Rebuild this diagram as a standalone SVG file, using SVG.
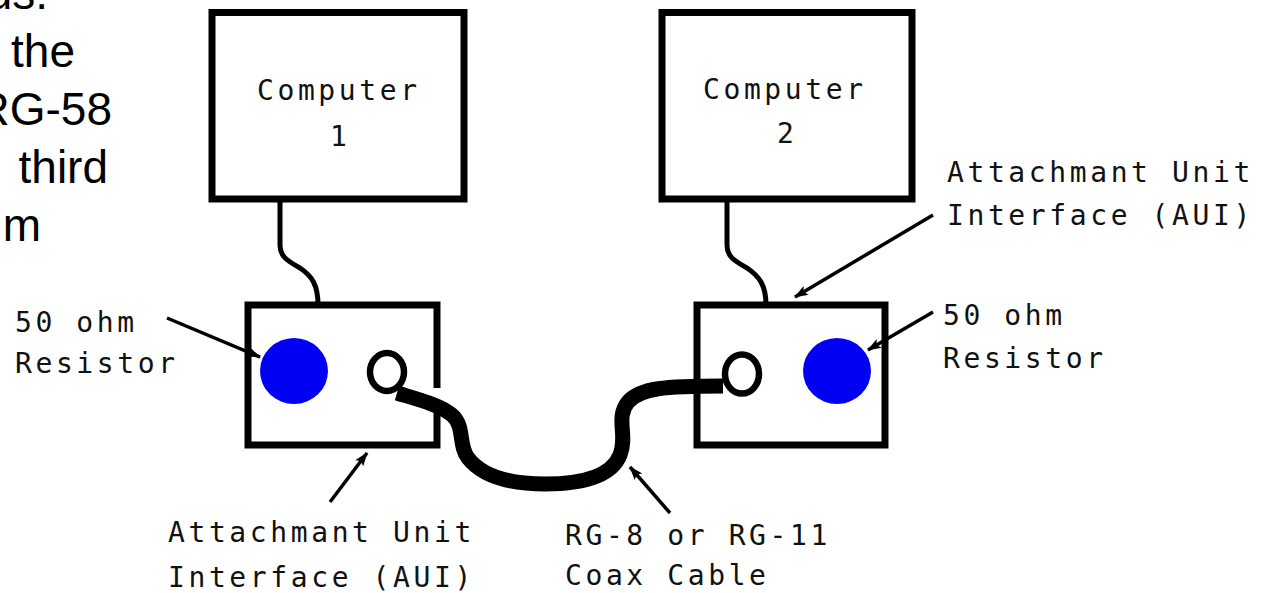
<svg xmlns="http://www.w3.org/2000/svg" width="1272" height="593" viewBox="0 0 1272 593">
<defs>
<style>
.box{fill:#fff;stroke:#000;stroke-width:7;stroke-linejoin:miter}
.wire{fill:none;stroke:#000;stroke-width:5;stroke-linecap:butt}
.cable{fill:none;stroke:#000;stroke-width:15;stroke-linecap:butt;stroke-linejoin:round}
.ring{fill:#fff;stroke:#000;stroke-width:6.5}
.res{fill:#0000f5}
.arr{fill:none;stroke:#000;stroke-width:3.5}
.lbl{font-family:"DejaVu Sans Mono","Liberation Mono",monospace;font-size:28px;letter-spacing:3.6px;fill:#111}
.side{font-family:"Liberation Sans",Arial,sans-serif;font-size:46px;fill:#000;text-anchor:end}
</style>
<marker id="ah" viewBox="0 0 14 10" refX="13" refY="5" markerWidth="14" markerHeight="10" markerUnits="userSpaceOnUse" orient="auto">
<path d="M0,0 L14,5 L0,10 L3,5 z" fill="#000"/>
</marker>
</defs>
<rect width="1272" height="593" fill="#fff"/>

<g id="side-text">
<text class="side" x="48" y="9">us:</text>
<text class="side" x="75" y="67">the</text>
<text class="side" x="112" y="125">RG-58</text>
<text class="side" x="108" y="183">third</text>
<text class="side" x="41" y="241">m</text>
</g>

<g id="computer1">
<rect class="box" x="212" y="12.5" width="252" height="186.5"/>
<text class="lbl" x="257" y="100">Computer</text>
<text class="lbl" x="330" y="146">1</text>
</g>

<g id="computer2">
<rect class="box" x="662" y="12.5" width="250" height="186.5"/>
<text class="lbl" x="703" y="99">Computer</text>
<text class="lbl" x="777" y="143">2</text>
</g>

<g id="aui1">
<path class="box" d="M437,388 V305 H248 V445 H437 V413"/>
<ellipse class="res" cx="294" cy="371" rx="34" ry="33"/>
</g>

<g id="aui2">
<rect class="box" x="697" y="305" width="188" height="140"/>
<ellipse class="res" cx="837" cy="371" rx="34" ry="33"/>
</g>

<g id="coax">
<path class="cable" d="M397,393 C420,400 440,405 452,415 C465,426 458,445 468,458 C482,476 510,484 545,484 C585,484 612,475 620,455 C628,435 615,418 628,402 C640,388 665,386 723,386"/>
<ellipse class="ring" cx="387" cy="372" rx="17" ry="19"/>
<ellipse class="ring" cx="742" cy="374" rx="17" ry="19.5"/>
</g>

<g id="connectors">
<path class="wire" d="M280,199 V245 C280,258 290,262 300,268 C312,276 318,285 318,305"/>
<path class="wire" d="M727,199 V245 C727,258 737,262 747,268 C759,276 766,285 766,305"/>
<line class="arr" x1="167" y1="318" x2="260" y2="357" marker-end="url(#ah)"/>
<line class="arr" x1="330" y1="502" x2="367" y2="453" marker-end="url(#ah)"/>
<line class="arr" x1="670" y1="513" x2="630" y2="467" marker-end="url(#ah)"/>
<line class="arr" x1="933" y1="215" x2="795" y2="297" marker-end="url(#ah)"/>
<line class="arr" x1="933" y1="312" x2="868" y2="350" marker-end="url(#ah)"/>
</g>

<g id="labels">
<text class="lbl" x="15" y="332">50 ohm</text>
<text class="lbl" x="15" y="373">Resistor</text>
<text class="lbl" x="168" y="542">Attachmant Unit</text>
<text class="lbl" x="168" y="587">Interface (AUI)</text>
<text class="lbl" x="565" y="545">RG-8 or RG-11</text>
<text class="lbl" x="565" y="585">Coax Cable</text>
<text class="lbl" x="947" y="182">Attachmant Unit</text>
<text class="lbl" x="947" y="225">Interface (AUI)</text>
<text class="lbl" x="943" y="325">50 ohm</text>
<text class="lbl" x="943" y="368">Resistor</text>
</g>
</svg>
